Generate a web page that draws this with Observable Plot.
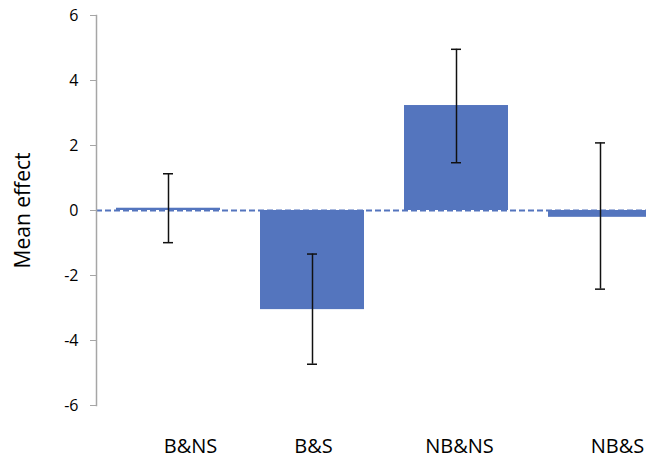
<!DOCTYPE html>
<html>
<head>
<meta charset="utf-8">
<script src="https://cdn.jsdelivr.net/npm/d3@7"></script>
<script src="https://cdn.jsdelivr.net/npm/@observablehq/plot@0.6"></script>
<style>
  html, body { margin: 0; padding: 0; background: #fff; overflow: hidden; }
  #chart svg { display: block; }
</style>
</head>
<body>
<div id="chart"></div>
<script>
const categories = ["B&NS", "B&S", "NB&NS", "NB&S"];
const means = [0.07, -3.05, 3.23, -0.21];
const lower = [-0.99, -4.73, 1.47, -2.42];
const upper = [1.13, -1.34, 4.96, 2.08];
const yTicks = [-6, -4, -2, 0, 2, 4, 6];
const yLabel = "Mean effect";

const data = categories.map((c, i) => ({cat: c, mean: means[i], lo: lower[i], hi: upper[i]}));

const barColor = "#5475BE";
const font = "'Open Sans', sans-serif";
const labelShift = {"B&NS": 22, "B&S": 1, "NB&NS": 3, "NB&S": 17};

const chart = Plot.plot({
  width: 646,
  height: 458,
  marginLeft: 96,
  marginRight: 0,
  marginTop: 15,
  marginBottom: 53,
  style: {fontFamily: font, background: "#fff", overflow: "hidden"},
  x: {domain: categories, range: [96, 672], paddingInner: 0.28, paddingOuter: 0.14, axis: null},
  y: {domain: [-6, 6], axis: null},
  marks: [
    Plot.ruleY([0], {stroke: barColor, strokeWidth: 2, strokeDasharray: "6,3"}),
    Plot.barY(data, {x: "cat", y: "mean", fill: barColor}),
    Plot.ruleX(data, {x: "cat", y1: "lo", y2: "hi", stroke: "#111", strokeWidth: 1.5}),
    Plot.tickY(data, {x: "cat", y: "lo", stroke: "#111", strokeWidth: 1.5, insetLeft: 47, insetRight: 47}),
    Plot.tickY(data, {x: "cat", y: "hi", stroke: "#111", strokeWidth: 1.5, insetLeft: 47, insetRight: 47}),
    Plot.frame({anchor: "left", stroke: "#A6A6A6", strokeWidth: 1.5}),
    Plot.axisY({ticks: yTicks, tickSize: 6, tickPadding: 12, stroke: "#A6A6A6", fontSize: 16, color: "#000", tickFormat: d => d < 0 ? "-" + Math.abs(d) : String(d), label: null}),
    ...categories.map(c => Plot.text([c], {x: d => d, frameAnchor: "bottom", dy: 41, dx: labelShift[c], fontSize: 20, fill: "#000", lineAnchor: "middle"})),
    Plot.text([yLabel], {frameAnchor: "left", dx: -73, rotate: -90, fontSize: 21, fill: "#000", textAnchor: "middle", lineAnchor: "middle"})
  ]
});
document.getElementById("chart").appendChild(chart);
</script>
</body>
</html>
